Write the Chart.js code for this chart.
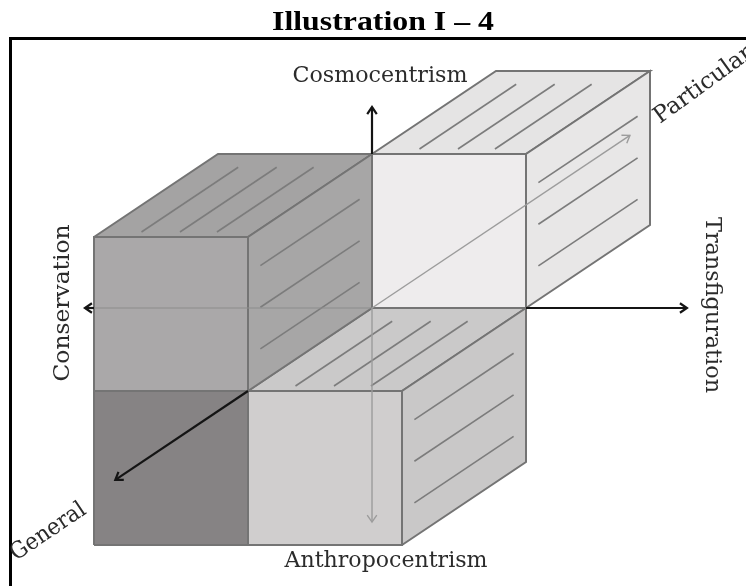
<!DOCTYPE html>
<html>
<head>
<meta charset="utf-8">
<script src="https://cdn.jsdelivr.net/npm/chart.js@4.4.1/dist/chart.umd.min.js"></script>
<style>
  html, body { margin: 0; padding: 0; background: #fff; overflow: hidden; }
  #wrap { position: relative; width: 746px; height: 586px; }
</style>
</head>
<body>
<div id="wrap"><canvas id="cubes" width="746" height="586"></canvas></div>
<script>
// unit cubes in 3D (x to the right, y up, z into the page)
const cubeNames = ['upperRight', 'lowerRight', 'upperLeft', 'lowerLeft'];
const cubeX = [[0, 1], [0, 1], [-1, 0], [-1, 0]];
const cubeY = [[0, 1], [-1, 0], [0, 1], [-1, 0]];
const cubeZ = [[0, 1], [-1, 0], [-1, 0], [-1, 0]];
const cubeFaces = [['front', 'top', 'right'], ['top', 'right', 'front'], ['top', 'right', 'front'], ['front']];

// hatch strokes: place across the face, and span along the depth (fractions of the face)
const topHatch = [0.26, 0.51, 0.75];
const topHatchSpan = [0.06, 0.84];
const sideHatch = [0.22, 0.49, 0.76];
const sideHatchSpan = [0.1, 0.9];

// axis arrows, 3D start and tip
const axisLabels = ['Cosmocentrism', 'Transfiguration', 'Conservation', 'Anthropocentrism', 'General', 'Particular'];
const axisStart = [[0, 1, 0], [1, 0, 0], [-1.805, 0, 0], [0, 0, 0], [0, 0, -1], [0, 0, 0]];
const axisTip = [[0, 1.305, 0], [2.045, 0, 0], [-1.864, 0, 0], [0, -1.39, 0], [0, 0, -2.07], [0, 0, 2.08]];
const axisBold = [true, true, true, false, true, false];
// faint guide running through the cubes
const guideStart = [[0, 0, 0]];
const guideEnd = [[-1.805, 0, 0]];

const title = 'Illustration I \u2013 4';

// ---- styles ----
const faceColors = {
    upperRight: { front: '#eeeced', top: '#e5e4e4', right: '#e8e7e7' },
    lowerRight: { front: '#d0cece', top: '#cac9c9', right: '#c9c8c8' },
    upperLeft: { front: '#aaa8a9', top: '#a4a3a3', right: '#a7a6a6' },
    lowerLeft: { front: '#868384' }
};
const edgeColor = '#747474';
const hatchColor = '#7c7c7c';
const boldColor = '#141414';
const faintColor = '#9c9c9c';

// oblique projection of the depth axis
const KX = 124 / 154, KY = 83 / 154;
const proj = p => ({ x: p[0] + KX * p[2], y: p[1] + KY * p[2] });

function faceCorners(i, face) {
    const [x0, x1] = cubeX[i], [y0, y1] = cubeY[i], [z0, z1] = cubeZ[i];
    if (face === 'front') return [[x0, y0, z0], [x1, y0, z0], [x1, y1, z0], [x0, y1, z0]];
    if (face === 'top') return [[x0, y1, z0], [x1, y1, z0], [x1, y1, z1], [x0, y1, z1]];
    return [[x1, y0, z0], [x1, y0, z1], [x1, y1, z1], [x1, y1, z0]];
}

function hatchLines(i, face) {
    const [x0, x1] = cubeX[i], [y0, y1] = cubeY[i], [z0, z1] = cubeZ[i];
    const levels = face === 'top' ? topHatch : sideHatch;
    const span = face === 'top' ? topHatchSpan : sideHatchSpan;
    const za = z0 + span[0] * (z1 - z0), zb = z0 + span[1] * (z1 - z0);
    return levels.map(f => face === 'top'
        ? [[x0 + f * (x1 - x0), y1, za], [x0 + f * (x1 - x0), y1, zb]]
        : [[x1, y0 + f * (y1 - y0), za], [x1, y0 + f * (y1 - y0), zb]]);
}

function arrowHead(from, tip, len, spread) {
    const a = proj(from), b = proj(tip);
    const ang = Math.atan2(b.y - a.y, b.x - a.x);
    return [
        { x: b.x - len * Math.cos(ang - spread), y: b.y - len * Math.sin(ang - spread) },
        b,
        { x: b.x - len * Math.cos(ang + spread), y: b.y - len * Math.sin(ang + spread) }
    ];
}

const lineDefaults = { showLine: true, pointRadius: 0, pointHoverRadius: 0, tension: 0, borderCapStyle: 'butt' };
const datasets = [];

// faces, back to front
cubeNames.forEach((name, i) => {
    cubeFaces[i].forEach(face => {
        const pts = faceCorners(i, face).map(proj);
        pts.push(pts[0]);
        datasets.push({ ...lineDefaults, data: pts, fill: 'shape',
            backgroundColor: faceColors[name][face], borderColor: edgeColor, borderWidth: 2, borderJoinStyle: 'miter' });
    });
});

// hatching on top and right faces
cubeNames.forEach((name, i) => {
    cubeFaces[i].filter(f => f !== 'front').forEach(face => {
        hatchLines(i, face).forEach(seg => {
            datasets.push({ ...lineDefaults, data: seg.map(proj), fill: false,
                borderColor: hatchColor, borderWidth: 1.6 });
        });
    });
});

guideStart.forEach((s, i) => {
    datasets.push({ ...lineDefaults, data: [proj(s), proj(guideEnd[i])], fill: false,
        borderColor: '#8c8c8c', borderWidth: 1.2 });
});

axisLabels.forEach((lab, i) => {
    const col = axisBold[i] ? boldColor : faintColor;
    const w = axisBold[i] ? 2.2 : 1.4;
    datasets.push({ ...lineDefaults, data: [proj(axisStart[i]), proj(axisTip[i])], fill: false,
        borderColor: col, borderWidth: w });
    datasets.push({ ...lineDefaults, data: arrowHead(axisStart[i], axisTip[i], 0.055, 0.6), fill: false,
        borderColor: col, borderWidth: w, borderJoinStyle: 'miter' });
});

// text placement (pixels): anchor, rotation, target width, alignment
const labelLayout = {
    Cosmocentrism: { x: 380, y: 82, rot: 0, w: 175, align: 'center', base: 'alphabetic' },
    Transfiguration: { x: 712, y: 305, rot: 90, w: 176, align: 'center', base: 'middle' },
    Conservation: { x: 63, y: 303, rot: -90, w: 157, align: 'center', base: 'middle' },
    Anthropocentrism: { x: 386, y: 567, rot: 0, w: 203, align: 'center', base: 'alphabetic' },
    General: { x: 16, y: 561, rot: -34, w: 86, align: 'left', base: 'alphabetic' },
    Particular: { x: 660, y: 124, rot: -36, w: 116, align: 'left', base: 'alphabetic' }
};
const labelSize = 23;

// draw text at a given size, squeezed horizontally to the target width
function drawFitted(ctx, text, family, weight, size, width) {
    ctx.font = weight + ' ' + size + 'px ' + family;
    const k = width / ctx.measureText(text).width;
    ctx.scale(k, 1);
    ctx.fillText(text, 0, 0);
}

const framePlugin = {
    id: 'frame',
    beforeDraw(chart) {
        const ctx = chart.ctx;
        ctx.save();
        ctx.fillStyle = '#fff';
        ctx.fillRect(0, 0, chart.width, chart.height);
        ctx.strokeStyle = '#000';
        ctx.lineWidth = 3;
        ctx.beginPath();
        ctx.moveTo(10.5, chart.height + 5);
        ctx.lineTo(10.5, 38.5);
        ctx.lineTo(chart.width + 5, 38.5);
        ctx.stroke();
        ctx.restore();
    },
    afterDraw(chart) {
        const ctx = chart.ctx;
        ctx.save();
        ctx.fillStyle = '#000';
        ctx.textAlign = 'center';
        ctx.textBaseline = 'alphabetic';
        ctx.translate(383, 30);
        drawFitted(ctx, title, '"Liberation Serif", "Times New Roman", serif', 'bold', 28, 222);
        ctx.restore();

        ctx.save();
        ctx.fillStyle = '#2b2b2b';
        axisLabels.forEach(lab => {
            const L = labelLayout[lab];
            ctx.save();
            ctx.translate(L.x, L.y);
            ctx.rotate(L.rot * Math.PI / 180);
            ctx.textAlign = L.align;
            ctx.textBaseline = L.base;
            drawFitted(ctx, lab, '"DejaVu Serif", serif', 'normal', labelSize, L.w);
            ctx.restore();
        });
        ctx.restore();
    }
};

new Chart(document.getElementById('cubes'), {
    type: 'scatter',
    data: { datasets: datasets.reverse() },
    options: {
        responsive: false,
        animation: false,
        events: [],
        layout: { padding: 0 },
        scales: {
            x: { type: 'linear', display: false, min: -372 / 154, max: 374 / 154 },
            y: { type: 'linear', display: false, min: -278 / 154, max: 308 / 154 }
        },
        plugins: { legend: { display: false }, tooltip: { enabled: false }, title: { display: false } }
    },
    plugins: [framePlugin]
});
</script>
</body>
</html>
